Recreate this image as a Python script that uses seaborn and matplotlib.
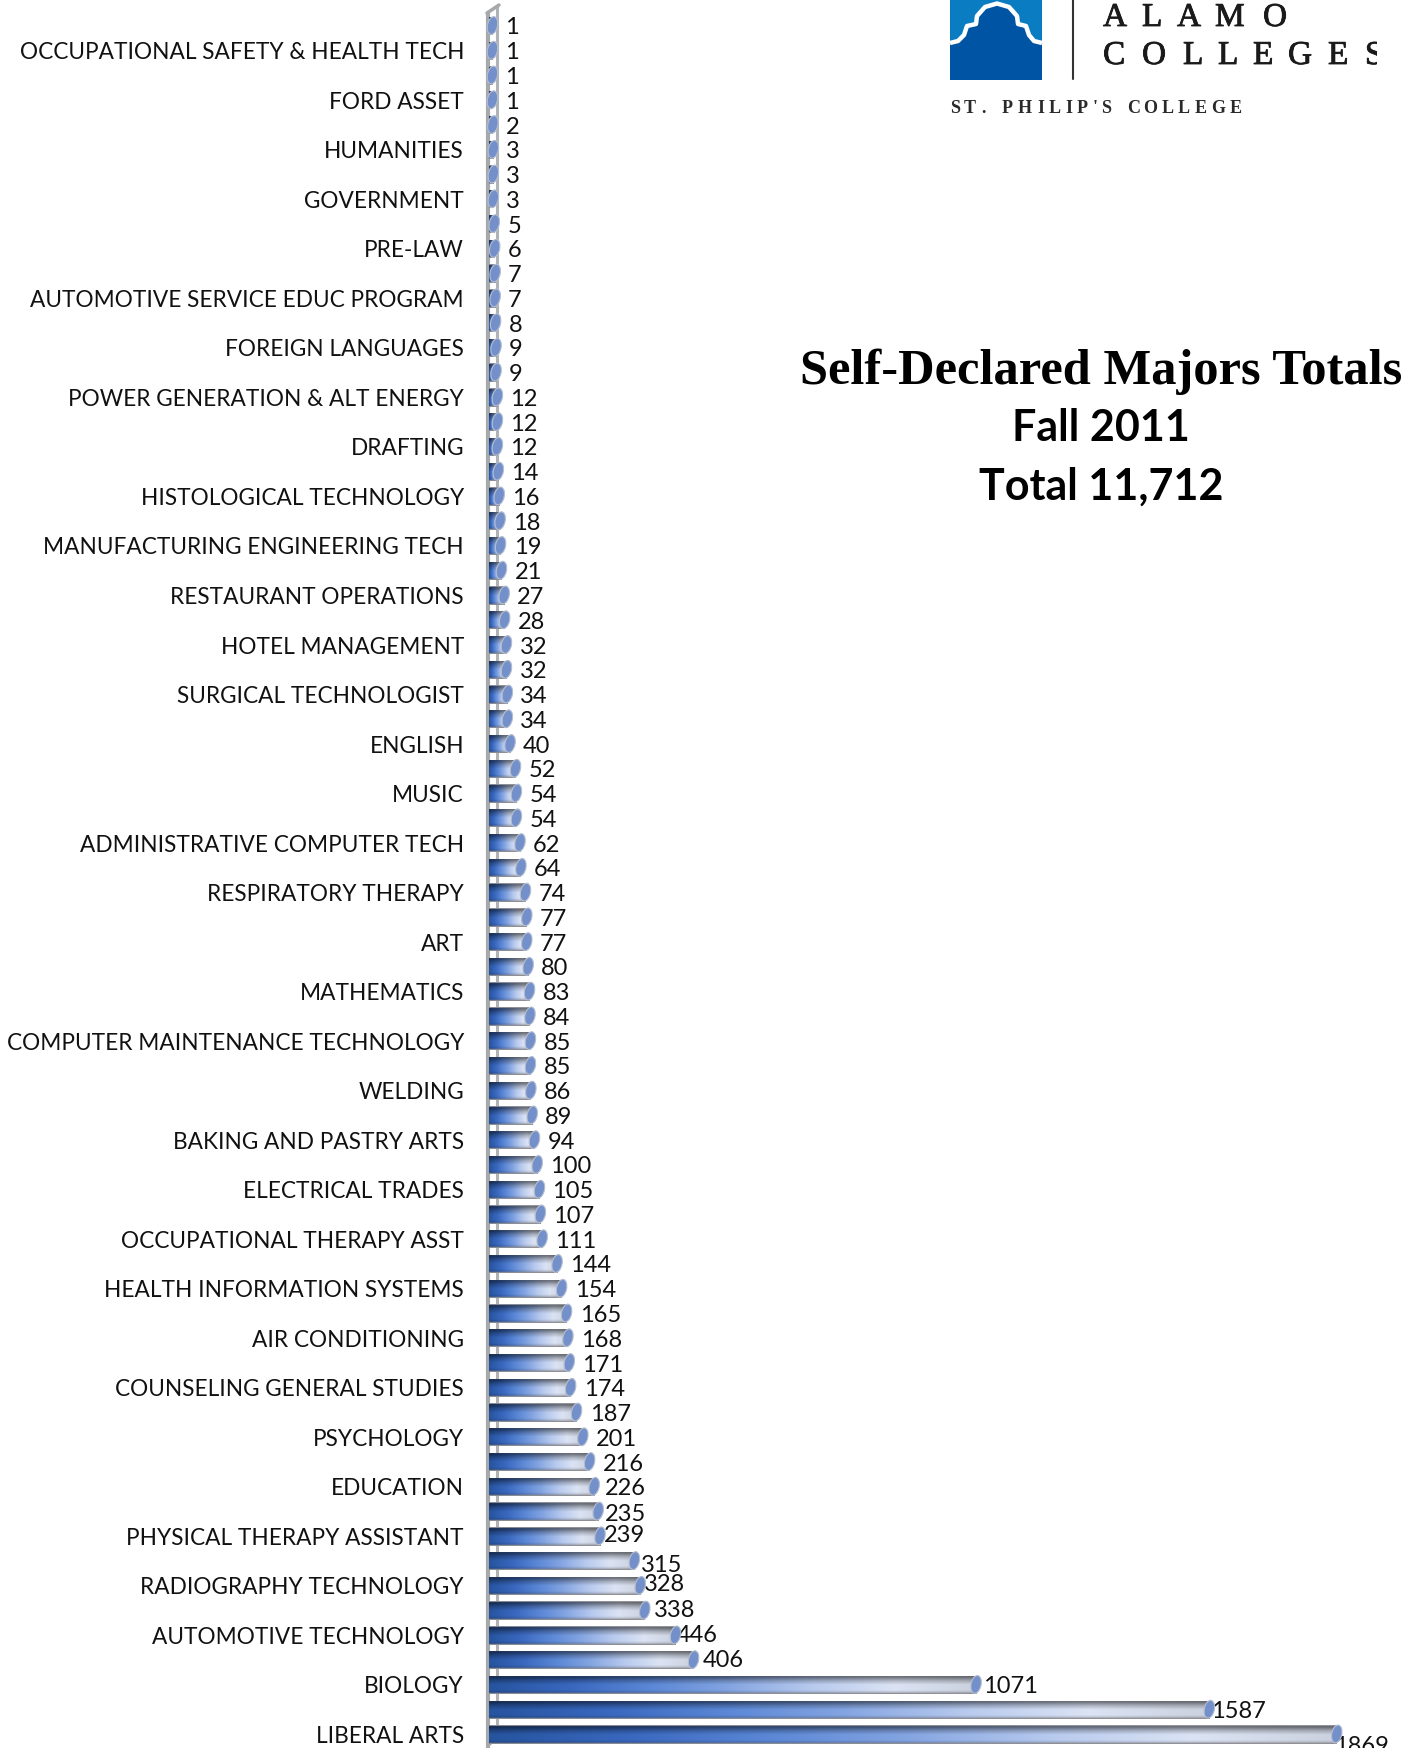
import numpy as np
import matplotlib
matplotlib.use('Agg')
import matplotlib.pyplot as plt
import matplotlib.patheffects as pe
from matplotlib.colors import LinearSegmentedColormap
from matplotlib.font_manager import FontProperties
from matplotlib.patches import Ellipse, Rectangle, Polygon
from matplotlib.textpath import TextPath
import seaborn as sns

W, H = 1403, 1748

# every second category carries a visible label in the original
labels = ['OCCUPATIONAL SAFETY & HEALTH TECH', 'FORD ASSET', 'HUMANITIES', 'GOVERNMENT', 'PRE-LAW',
          'AUTOMOTIVE SERVICE EDUC PROGRAM', 'FOREIGN LANGUAGES', 'POWER GENERATION & ALT ENERGY',
          'DRAFTING', 'HISTOLOGICAL TECHNOLOGY', 'MANUFACTURING ENGINEERING TECH', 'RESTAURANT OPERATIONS',
          'HOTEL MANAGEMENT', 'SURGICAL TECHNOLOGIST', 'ENGLISH', 'MUSIC', 'ADMINISTRATIVE COMPUTER TECH',
          'RESPIRATORY THERAPY', 'ART', 'MATHEMATICS', 'COMPUTER MAINTENANCE TECHNOLOGY', 'WELDING',
          'BAKING AND PASTRY ARTS', 'ELECTRICAL TRADES', 'OCCUPATIONAL THERAPY ASST',
          'HEALTH INFORMATION SYSTEMS', 'AIR CONDITIONING', 'COUNSELING GENERAL STUDIES', 'PSYCHOLOGY',
          'EDUCATION', 'PHYSICAL THERAPY ASSISTANT', 'RADIOGRAPHY TECHNOLOGY', 'AUTOMOTIVE TECHNOLOGY',
          'BIOLOGY', 'LIBERAL ARTS']
values = [1, 1, 1, 1, 2, 3, 3, 3, 5, 6, 7, 7, 8, 9, 9, 12, 12, 12, 14, 16, 18, 19, 21, 27, 28, 32, 32, 34, 34, 40,
          52, 54, 54, 62, 64, 74, 77, 77, 80, 83, 84, 85, 85, 86, 89, 94, 100, 105, 107, 111, 144, 154, 165, 168,
          171, 174, 187, 201, 216, 226, 235, 239, 315, 328, 338, 406, 446, 1071, 1587, 1869]
# the printed numbers on the 406/446 rows are swapped against the bar lengths in the original
printed = list(values)
printed[65], printed[66] = 446, 406

# labels that sit off the default spot (row index: dx, dy in pixels)
nudges = {59: (-2, 0), 60: (-6, 1), 61: (-9, -3), 62: (-6, 2), 63: (-9, -3), 64: (-4, -2), 65: (-12, -2), 66: (-4, -2),
          67: (-6, 0), 68: (-11, 0), 69: (-16, 10)}

sns.set_theme(style='white')
plt.rcParams['font.family'] = ['Lato', 'DejaVu Sans']

fig = plt.figure(figsize=(W / 100, H / 100), dpi=100)
ax_left, ax_right = 489, 1351
ax_top, ax_bot = 5, 1748
px_per_unit = 0.452
zero_px = 492
ax = fig.add_axes([ax_left / W, 1 - ax_bot / H, (ax_right - ax_left) / W, (ax_bot - ax_top) / H])
ax.patch.set_alpha(0)

names = [f'c{i}' for i in range(len(values))]
sns.barplot(x=values, y=names, orient='h', color='#4f7fd0', width=0.74, ax=ax, legend=False)

row0, step = 26.0, 24.76
ax.set_ylim((ax_bot - row0) / step, (ax_top - row0) / step)
x0 = -(zero_px - ax_left) / px_per_unit
ax.set_xlim(x0, x0 + (ax_right - ax_left) / px_per_unit)
xlim, ylim = ax.get_xlim(), ax.get_ylim()

ax.set_xticks([])
ax.set_xlabel('')
ax.set_ylabel('')
ax.set_yticks(range(1, len(values), 2))
ax.set_yticklabels(labels, fontsize=16.3, color='#111111')
ax.tick_params(axis='y', length=0, pad=18)
for s in ax.spines.values():
    s.set_visible(False)

# cylinder shading: colour runs along the bar, brightness across it
along = LinearSegmentedColormap.from_list(
    'along', ['#27549f', '#3a68bf', '#5c88d6', '#86a6e2', '#b8caee', '#dbe3f4', '#cbd1de'])
u = np.linspace(0, 1, 128)
base = along(u)[:, :3]
v = np.linspace(0, 1, 64)
across = np.interp(v, [0, 0.08, 0.28, 0.5, 0.8, 1], [0.48, 0.48, 0.78, 1.0, 1.0, 0.74])
grad = np.clip(base[None, :, :] * across[:, None, None], 0, 1)
grad[:3] = [0.62, 0.62, 0.64]
grad[-4:] = [0.56, 0.56, 0.58]

top = fig.add_axes([0, 0, 1, 1], zorder=5)
top.set_xlim(0, W)
top.set_ylim(H, 0)
top.axis('off')
top.patch.set_alpha(0)

for i, (bar, val, txt) in enumerate(zip(ax.patches, values, printed)):
    y, h = bar.get_y(), bar.get_height()
    bar.set_x(x0)
    bar.set_width(val - x0)
    bar.set_edgecolor('none')
    im = ax.imshow(grad, extent=(x0, val, y + h, y), aspect='auto', interpolation='bilinear', zorder=2)
    im.set_clip_path(bar)
    # rounded, slightly tilted end of the cylinder
    ex, ey = ax.transData.transform((val, i))
    top.add_patch(Ellipse((ex, H - ey - 0.5), 10, 18, angle=12, facecolor='#7390cb', edgecolor='#b5bed0', lw=0.8))
    dx, dy = nudges.get(i, (0, 0))
    ax.annotate(str(txt), (val, i), xytext=((13 + dx) * 0.72, -(dy + 2) * 0.72), textcoords='offset points',
                ha='left', va='center', fontsize=17, color='#111111', annotation_clip=False, zorder=4)
ax.set_xlim(xlim)
ax.set_ylim(ylim)

# chart wall sits behind the bars
over = fig.add_axes([0, 0, 1, 1], zorder=-1)
over.set_xlim(0, W)
over.set_ylim(H, 0)
over.axis('off')
over.plot([488, 488], [12, 1748], color='#a6a9ac', lw=3, solid_capstyle='butt')
over.plot([497, 497], [6, 1738], color='#b0b3b6', lw=2.2, solid_capstyle='butt')
over.plot([487, 499], [13, 5], color='#a6a9ac', lw=2.5)
over.plot([488, 497], [1746, 1737], color='#a6a9ac', lw=2)

top.text(1101, 372, 'Self-Declared Majors Totals', family='Liberation Serif', weight='bold', fontsize=36.4,
         ha='center', va='center', color='black')
top.text(1101, 428, 'Fall 2011', weight='bold', fontsize=31, ha='center', va='center', color='black')
top.text(1101, 487, 'Total 11,712', weight='bold', fontsize=31, ha='center', va='center', color='black')

# logo
top.add_patch(Rectangle((950, 0), 92, 80, color='#0a7cc2', lw=0))
arch = [(950, 43), (958, 41), (964, 35), (967, 26), (976, 24), (977, 16), (985, 7), (997, 3.5), (1009, 7), (1017, 16),
        (1018, 24), (1026, 26), (1029, 35), (1034, 41), (1042, 43)]
top.add_patch(Polygon(arch + [(1042, 80), (950, 80)], closed=True, facecolor='#0054a4', edgecolor='none'))
top.plot([p[0] for p in arch], [p[1] for p in arch], color='white', lw=3.2, solid_capstyle='butt')
top.plot([1073, 1073], [0, 79], color='#333333', lw=1.5)

heavier = [pe.withStroke(linewidth=0.6, foreground='#1a1a1a')]


def spaced(x_list, y, word, size):
    for xx, ch in zip(x_list, word):
        top.text(xx, y, ch, family='Liberation Serif', fontsize=size, color='#1a1a1a', ha='left', va='baseline',
                 path_effects=heavier)


def tracked(x, y, word, size, gap, weight='normal'):
    prop = FontProperties(family='Liberation Serif', weight=weight)
    for ch in word:
        if ch == ' ':
            x += size * 0.5 + gap
            continue
        top.text(x, y, ch, fontproperties=prop, fontsize=size, color='#2a2a2a', ha='left', va='baseline')
        x += TextPath((0, 0), ch, size=size * 100 / 72, prop=prop).get_extents().width + gap


spaced([1103, 1142, 1177, 1215, 1263], 26, 'ALAMO', 24)
spaced([1103, 1142, 1183, 1218, 1253, 1288, 1328, 1365], 64, 'COLLEGES', 24)
tracked(950, 113, "ST. PHILIP'S COLLEGE", 13, 5.7, weight='bold')
top.add_patch(Rectangle((1377, 0), 26, 80, color='white', lw=0, zorder=6))

fig.savefig('out.png', dpi=100)
